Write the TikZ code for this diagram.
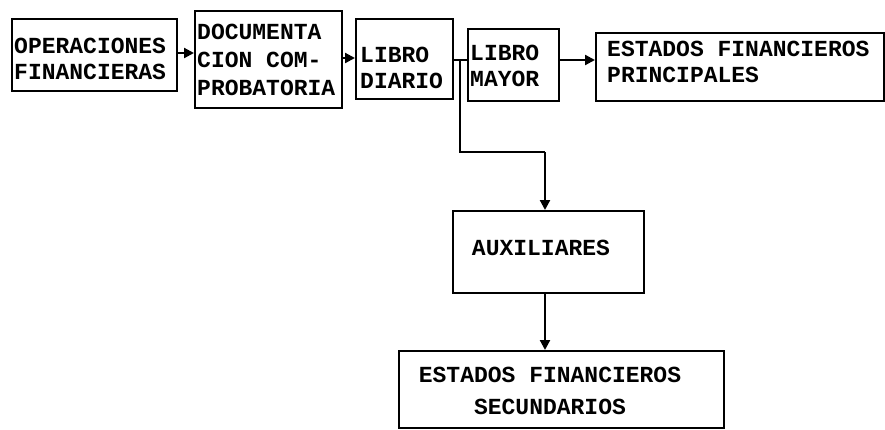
\documentclass[tikz,border=0pt]{standalone}
\usepackage{fontspec}
\setmonofont{Liberation Mono}
\usetikzlibrary{arrows.meta}
\tikzset{
  boxshape/.style={draw, line width=2.4pt, rectangle, inner sep=0pt},
  lbl/.style={font=\ttfamily\bfseries\fontsize{23}{26}\selectfont, inner sep=0pt, align=left, anchor=west},
  lblc/.style={font=\ttfamily\bfseries\fontsize{23}{32}\selectfont, inner sep=0pt, align=center},
  conn/.style={line width=2.2pt},
  arr/.style={line width=2.2pt, -{Triangle[length=10pt,width=10pt]}}
}
\begin{document}
\begin{tikzpicture}[x=1pt,y=-1pt]
\useasboundingbox (0,0) rectangle (885,429);
% boxes
\node[boxshape, minimum width=165, minimum height=72, anchor=north west] (op) at (11,18) {};
\node[boxshape, minimum width=147, minimum height=97, anchor=north west] (doc) at (194,10) {};
\node[boxshape, minimum width=97, minimum height=80, anchor=north west] (dia) at (355,18) {};
\node[boxshape, minimum width=91, minimum height=72, anchor=north west] (may) at (467,28) {};
\node[boxshape, minimum width=288, minimum height=68, anchor=north west] (pri) at (595,32) {};
\node[boxshape, minimum width=191, minimum height=82, anchor=north west] (aux) at (452,210) {};
\node[boxshape, minimum width=325, minimum height=77, anchor=north west] (sec) at (398,350) {};
% labels
\node[lbl] (opt) at (14,59) {OPERACIONES\\FINANCIERAS};
\node[lbl, font=\ttfamily\bfseries\fontsize{23}{28}\selectfont] (doct) at (197,60) {DOCUMENTA\\CION COM-\\PROBATORIA};
\node[lbl] (diat) at (360,68) {LIBRO\\DIARIO};
\node[lbl] (mayt) at (470,66) {LIBRO\\MAYOR};
\node[lbl] (prit) at (607,62) {ESTADOS FINANCIEROS\\PRINCIPALES};
\node[lbl, anchor=center] (auxt) at (541,248) {AUXILIARES};
\node[lblc] (sect) at (550,391) {ESTADOS FINANCIEROS\\SECUNDARIOS};
% connectors
\coordinate (j) at (460,60);
\coordinate (c1) at (460,152);
\coordinate (c2) at (545,152);
\draw[arr] (op.east |- 0,53) -- (doc.west |- 0,53);
\draw[arr] (doc.east |- 0,58) -- (dia.west |- 0,58);
\draw[conn] (dia.east |- j) -- (may.west |- j);
\draw[conn] (j) -- (c1) -- (c2);
\draw[arr] (c2) -- (c2 |- aux.north);
\draw[arr] (may.east |- 0,60) -- (pri.west |- 0,60);
\draw[arr] (aux.south -| c2) -- (sec.north -| c2);
\end{tikzpicture}
\end{document}
